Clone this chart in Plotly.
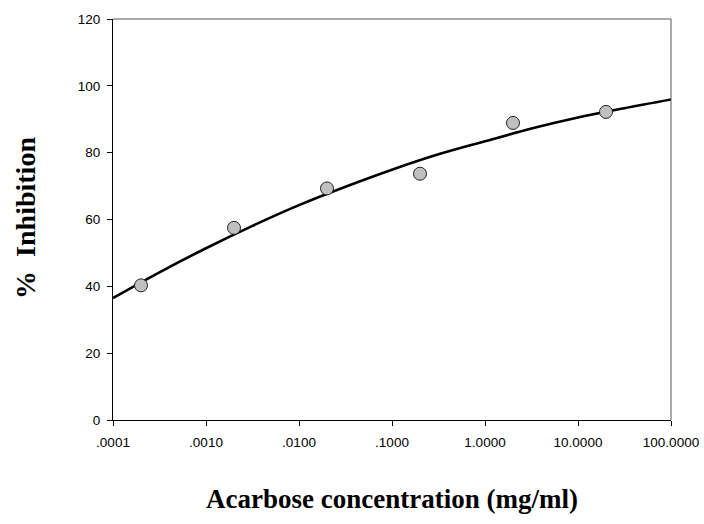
import plotly.graph_objects as go

# Acarbose dose-response: measured inhibition and fitted curve
conc = [0.0002, 0.002, 0.02, 0.2, 2, 20]
inhibition = [40.3, 57.5, 69.3, 73.7, 88.9, 92.2]

fit_conc = [0.0001, 0.000316, 0.001, 0.00316, 0.01, 0.0316, 0.1, 0.316,
            1, 3.16, 10, 31.6, 100]
fit_inhibition = [36.5, 44.2, 51.4, 58.1, 64.3, 69.8, 74.9, 79.5,
                  83.4, 87.2, 90.5, 93.3, 95.9]

x_tickvals = [0.0001, 0.001, 0.01, 0.1, 1, 10, 100]
x_ticktext = [".0001", ".0010", ".0100", ".1000", "1.0000", "10.0000", "100.0000"]
y_tickvals = [0, 20, 40, 60, 80, 100, 120]

fig = go.Figure()
fig.add_trace(go.Scatter(
    x=fit_conc, y=fit_inhibition, mode="lines",
    line=dict(color="black", width=2.6, shape="spline"),
    hoverinfo="skip", showlegend=False,
))
fig.add_trace(go.Scatter(
    x=conc, y=inhibition, mode="markers",
    marker=dict(size=13, color="#c0c0c0", line=dict(color="#222222", width=1)),
    showlegend=False,
))

tick_font = dict(family="Liberation Sans, Arial, sans-serif", size=13.5, color="black")
title_font = dict(family="Liberation Serif, Times New Roman, serif", size=27, color="black")

fig.update_layout(
    width=704, height=524,
    margin=dict(l=113, r=33, t=19, b=104),
    paper_bgcolor="white", plot_bgcolor="white",
    xaxis=dict(
        type="log", range=[-4, 2], automargin=False,
        tickvals=x_tickvals, ticktext=x_ticktext,
        ticks="outside", ticklen=5, tickwidth=1, tickcolor="black",
        showline=True, linecolor="black", linewidth=1,
        showgrid=False, zeroline=False, tickfont=tick_font,
        ticklabelstandoff=5,
    ),
    yaxis=dict(
        range=[0, 120], tickvals=y_tickvals, automargin=False,
        ticks="outside", ticklen=5, tickwidth=1, tickcolor="black",
        showline=True, linecolor="black", linewidth=1,
        showgrid=False, zeroline=False, tickfont=tick_font,
        ticklabelstandoff=4,
    ),
    shapes=[
        dict(type="line", xref="paper", yref="paper", x0=0, x1=1, y0=1, y1=1,
             line=dict(color="#555555", width=1)),
        dict(type="line", xref="paper", yref="paper", x0=1, x1=1, y0=0, y1=1,
             line=dict(color="#555555", width=1)),
    ],
    annotations=[
        dict(text="<b>Acarbose concentration (mg/ml)</b>", xref="paper", yref="paper",
             x=0.5, y=-0.198, xanchor="center", yanchor="middle",
             showarrow=False, font=title_font),
        dict(text="<b>%  Inhibition</b>", xref="paper", yref="paper",
             x=-0.157, y=0.505, xanchor="center", yanchor="middle", textangle=-90,
             showarrow=False, font=dict(title_font, size=28)),
    ],
)

fig.write_html("out.html")
